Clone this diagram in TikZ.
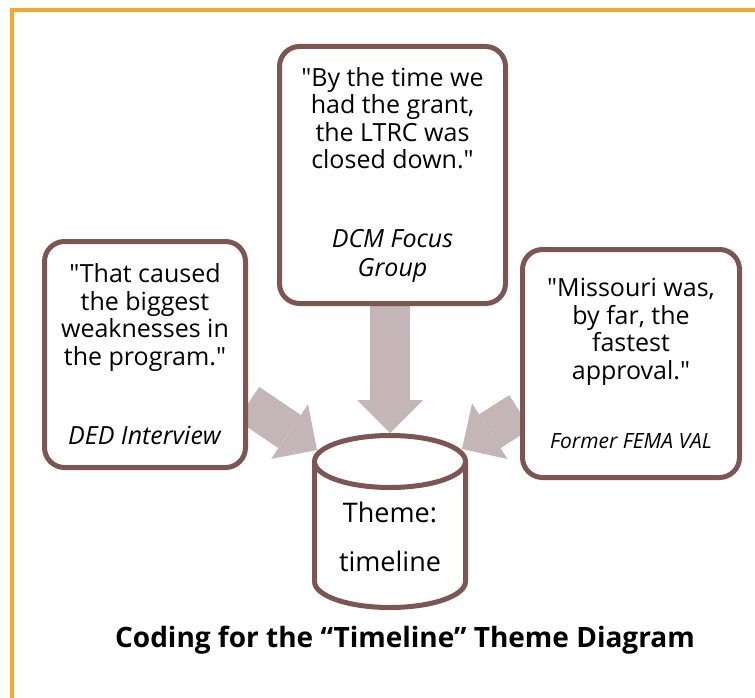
\documentclass[tikz,border=0pt]{standalone}
\usepackage{fontspec}
\setmainfont{Open Sans}[Ligatures=TeXOff]
\usetikzlibrary{arrows.meta,backgrounds}

\definecolor{frameorange}{RGB}{249,166,46}
\definecolor{boxbrown}{RGB}{125,86,84}
\definecolor{arrowgray}{RGB}{196,182,182}

\begin{document}
\begin{tikzpicture}[
  x=1pt, y=-1pt,
  quote/.style={draw=boxbrown, line width=5pt, rounded corners=20pt, fill=white, align=center, inner sep=0pt, font=\fontsize{25}{27.5}\selectfont},
  can/.style={draw=boxbrown, line width=5pt, fill=white},
  themetext/.style={align=center, font=\fontsize{27}{49}\selectfont},
  flow/.style={arrowgray, line width=40pt, -{Triangle[length=33pt, width=66pt, line width=0pt]}}
]
  \useasboundingbox (0,0) rectangle (755,698);
  \draw[frameorange, line width=4pt] (12,698) -- (12,10) -- (755,10);

  % quotes
  \node[quote, minimum width=226pt, minimum height=257pt] (dcm) at (392.5,175) {"By the time we\\had the grant,\\the LTRC was\\closed down."\\[51pt]\textit{DCM Focus}\\[2pt]\textit{Group}};
  \node[quote, minimum width=201pt, minimum height=226pt] (ded) at (145,354.5) {"That caused\\the biggest\\weaknesses in\\the program."\\[52pt]\textit{DED Interview}};
  \node[quote, minimum width=217pt, minimum height=228pt] (fema) at (631,363.5) {"Missouri was,\\by far, the\\fastest\\approval."\\[42pt]{\fontsize{21}{24}\selectfont\itshape Former FEMA VAL}};

  % theme cylinder
  \draw[can] (314.5,461.5) -- (314.5,581.5) arc[start angle=180, end angle=0, x radius=75.5, y radius=26] -- (465.5,461.5);
  \draw[can] (390,461.5) ellipse [x radius=75.5, y radius=26];
  \coordinate (cyltop) at (390,433);
  \node[themetext] (theme) at (390,536.5) {Theme:\\timeline};

  \begin{scope}[on background layer]
    \draw[flow] (cyltop |- dcm.south) -- (cyltop);
    \draw[flow] ([yshift=-49pt]ded.east) -- ([shift={(-73pt,-17pt)}]cyltop);
    \draw[flow] ([yshift=-48.5pt]fema.west) -- ([shift={(72pt,-16pt)}]cyltop);
  \end{scope}

  \node[font=\fontsize{28}{32}\selectfont\bfseries] (title) at (405,640) {Coding for the “Timeline” Theme Diagram};
\end{tikzpicture}
\end{document}
